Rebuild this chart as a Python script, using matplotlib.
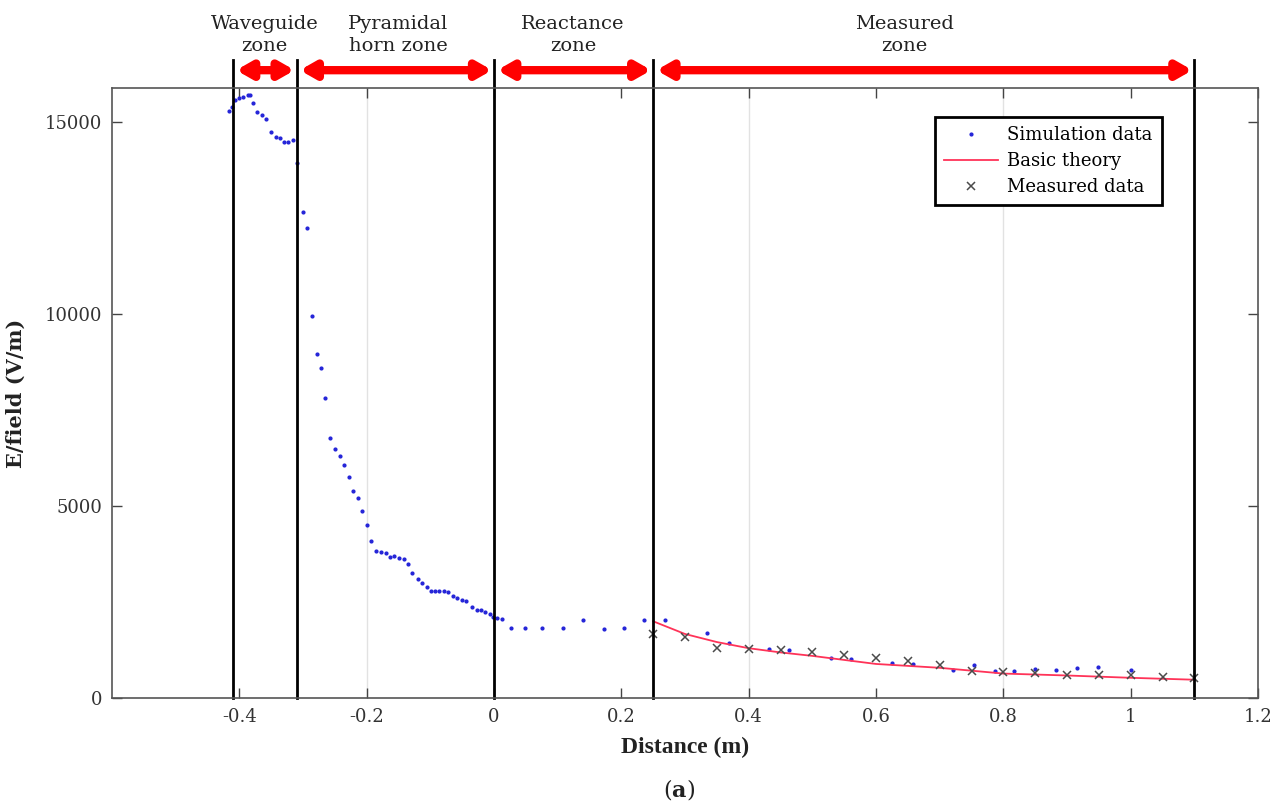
import matplotlib
matplotlib.use("Agg")
import matplotlib.pyplot as plt

plt.rcParams['font.family'] = ['DejaVu Serif']
plt.rcParams['mathtext.fontset'] = 'custom'
plt.rcParams['mathtext.rm'] = 'DejaVu Serif'
plt.rcParams['mathtext.bf'] = 'DejaVu Serif:bold'

# simulation data (distance m, E-field V/m)
sim_x = [-0.416, -0.412, -0.407, -0.400, -0.394, -0.387, -0.383, -0.379, -0.373, -0.365,
         -0.358, -0.351, -0.342, -0.336, -0.330, -0.323, -0.316, -0.309, -0.300, -0.293,
         -0.286, -0.278, -0.272, -0.265, -0.257, -0.250, -0.242, -0.235, -0.228, -0.221,
         -0.214, -0.207, -0.200, -0.193, -0.185, -0.178, -0.170, -0.164, -0.157, -0.149,
         -0.142, -0.135, -0.128, -0.120, -0.113, -0.106, -0.099, -0.092, -0.086, -0.078,
         -0.072, -0.065, -0.058, -0.051, -0.044, -0.035, -0.027, -0.021, -0.014, -0.007,
         -0.001, 0.004, 0.012, 0.026, 0.049, 0.076, 0.108, 0.140, 0.172, 0.204,
         0.236, 0.268, 0.335, 0.369, 0.432, 0.464, 0.529, 0.561, 0.625, 0.658,
         0.721, 0.754, 0.787, 0.817, 0.850, 0.883, 0.915, 0.948, 1.000]
sim_y = [15280, 15390, 15565, 15625, 15650, 15690, 15690, 15480, 15260, 15180,
         15060, 14740, 14590, 14570, 14480, 14480, 14530, 13920, 12660, 12230,
         9940, 8960, 8600, 7820, 6780, 6480, 6310, 6070, 5760, 5380,
         5210, 4880, 4510, 4100, 3840, 3815, 3770, 3685, 3690, 3650,
         3630, 3495, 3250, 3105, 3000, 2905, 2800, 2780, 2780, 2780,
         2750, 2670, 2610, 2560, 2520, 2370, 2300, 2285, 2240, 2200,
         2110, 2090, 2070, 1835, 1835, 1835, 1825, 2040, 1810, 1835,
         2025, 2025, 1686, 1438, 1281, 1256, 1058, 1008, 909, 876,
         744, 860, 719, 719, 760, 736, 777, 802, 744]

# basic theory curve
theory_x = [0.25, 0.30, 0.35, 0.40, 0.45, 0.50, 0.60, 0.70, 0.80, 0.90, 1.00, 1.10]
theory_y = [2000, 1670, 1460, 1300, 1190, 1100, 890, 790, 640, 590, 530, 480]

# measured data
meas_x = [0.25, 0.30, 0.35, 0.40, 0.45, 0.50, 0.55, 0.60, 0.65, 0.70,
          0.75, 0.80, 0.85, 0.90, 0.95, 1.00, 1.05, 1.10]
meas_y = [1680, 1590, 1300, 1270, 1260, 1190, 1120, 1040, 975, 860,
          710, 680, 660, 600, 600, 600, 555, 530]

# zone boundaries and labels
bounds = [-0.41, -0.31, 0.0, 0.25, 1.1]
zone_labels = ['Waveguide\nzone', 'Pyramidal\nhorn zone', 'Reactance\nzone', 'Measured\nzone']
zone_label_x = [-0.36, -0.150, 0.124, 0.645]

fig = plt.figure(figsize=(12.87, 8.09), dpi=100)
ax = fig.add_axes([0.087, 0.137, 0.8905, 0.754])

for gx in [-0.2, 0.4, 0.8]:
    ax.axvline(gx, color='#e2e2e2', lw=1, zorder=0)

ax.plot(sim_x, sim_y, linestyle='none', marker='.', markersize=4, color='#2424d8',
        label='Simulation data')
ax.plot(theory_x, theory_y, color='#ff3358', lw=1.3, label='Basic theory')
ax.plot(meas_x, meas_y, linestyle='none', marker='x', markersize=5.5, mew=1.1,
        color='#4a4a4a', label='Measured data')

trans = ax.get_xaxis_transform()
for b in bounds:
    ax.plot([b, b], [0, 1.046], color='black', lw=2, transform=trans, clip_on=False)

for i in range(len(zone_labels)):
    a, b = bounds[i], bounds[i + 1]
    ax.annotate('', xy=(b - 0.003, 1.0295), xytext=(a + 0.005, 1.0295),
                xycoords=trans, textcoords=trans,
                arrowprops=dict(arrowstyle='<|-|>,head_length=0.42,head_width=0.24',
                                color='#ff0000', lw=6, mutation_scale=20,
                                shrinkA=0, shrinkB=0), annotation_clip=False)
    ax.text(zone_label_x[i], 1.087, zone_labels[i], transform=trans, ha='center',
            va='center', fontsize=14, linespacing=1.3, color='#222222')

ax.set_xlim(-0.6, 1.2)
ax.set_ylim(0, 15870)
ax.set_xticks([-0.4, -0.2, 0, 0.2, 0.4, 0.6, 0.8, 1.0, 1.2])
ax.set_xticklabels(['-0.4', '-0.2', '0', '0.2', '0.4', '0.6', '0.8', '1', '1.2'])
ax.set_yticks([0, 5000, 10000, 15000])
ax.tick_params(direction='in', top=True, right=True, length=7, width=1,
               labelsize=13, colors='#444444', labelcolor='#333333', pad=7)
for s in ax.spines.values():
    s.set_color('#555555')
    s.set_linewidth(1.2)

ax.set_xlabel('Distance (m)', fontsize=17, fontweight='bold', labelpad=8,
              color='#222222', family='Liberation Serif')
ax.set_ylabel('E/field (V/m)', fontsize=15, fontweight='bold', labelpad=14,
              color='#222222')
fig.text(0.528, 0.024, r'($\mathbf{a}$)', ha='center', va='center', fontsize=16,
         color='#222222')

leg = ax.legend(loc='upper right', bbox_to_anchor=(0.916, 0.9525), fontsize=13,
                fancybox=False, edgecolor='black', framealpha=1, borderpad=0.5,
                handlelength=3.0, handletextpad=0.5, labelspacing=0.45,
                borderaxespad=0)
leg.get_frame().set_linewidth(2)

fig.savefig('out.png', dpi=100)
